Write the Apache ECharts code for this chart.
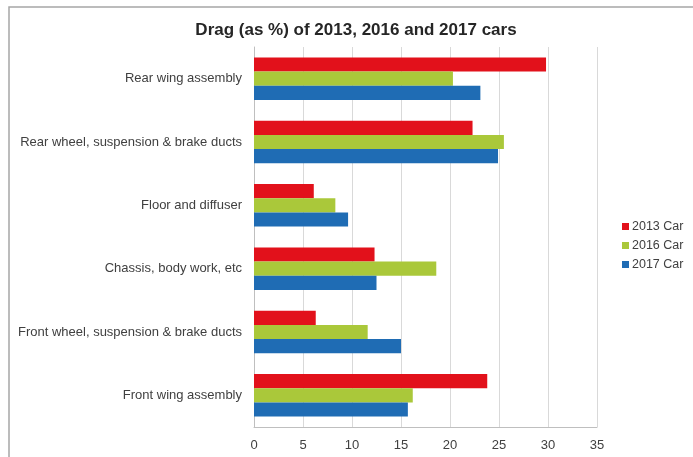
<!DOCTYPE html>
<html>
<head>
<meta charset="utf-8">
<script src="https://cdn.jsdelivr.net/npm/echarts@6/dist/echarts.min.js"></script>
<style>
  html, body { margin: 0; padding: 0; background: #fff; }
  #chart { width: 693px; height: 457px; }
</style>
</head>
<body>
<div id="chart"></div>
<script>
// Car components, listed top to bottom
const categories = [
  'Rear wing assembly',
  'Rear wheel, suspension & brake ducts',
  'Floor and diffuser',
  'Chassis, body work, etc',
  'Front wheel, suspension & brake ducts',
  'Front wing assembly'
];

// Drag share (%) per component
const car2013 = [29.8, 22.3, 6.1, 12.3, 6.3, 23.8];
const car2016 = [20.3, 25.5, 8.3, 18.6, 11.6, 16.2];
const car2017 = [23.1, 24.9, 9.6, 12.5, 15.0, 15.7];

const seriesNames = ['2013 Car', '2016 Car', '2017 Car'];
const xTicks = [0, 5, 10, 15, 20, 25, 30, 35];

const colors = ['#e2111b', '#aac83a', '#1f6cb4'];
const textColor = '#404040';
const font = 'Liberation Sans, Arial, sans-serif';

const chart = echarts.init(document.getElementById('chart'), null, { renderer: 'canvas' });

const makeSeries = (name, data, color) => ({
  name: name,
  type: 'bar',
  data: data,
  itemStyle: { color: color },
  barGap: '0%',
  barCategoryGap: '33%',
  emphasis: { disabled: true }
});

chart.setOption({
  animation: false,
  backgroundColor: '#ffffff',
  graphic: [{
    type: 'rect',
    shape: { x: 9, y: 7, width: 720, height: 480 },
    style: { fill: 'none', stroke: '#a6a6a6', lineWidth: 1.5 },
    silent: true
  }],
  title: {
    text: 'Drag (as %) of 2013, 2016 and 2017 cars',
    left: 351,
    textAlign: 'center',
    top: 17,
    textStyle: { fontFamily: font, fontSize: 17, fontWeight: 'bold', color: '#262626' }
  },
  legend: {
    orient: 'vertical',
    left: 617,
    top: 215,
    icon: 'rect',
    itemWidth: 7,
    itemHeight: 7,
    itemGap: 6,
    data: seriesNames,
    textStyle: { fontFamily: font, fontSize: 12.5, color: textColor, padding: [0, 0, 0, -2] }
  },
  grid: { left: 254, right: 96, top: 47, bottom: 30, containLabel: false },
  xAxis: {
    type: 'value',
    min: xTicks[0],
    max: xTicks[xTicks.length - 1],
    interval: 5,
    axisLine: { show: true, lineStyle: { color: '#bfbfbf' } },
    axisTick: { show: false },
    splitLine: { show: true, lineStyle: { color: '#d9d9d9', width: 1 } },
    axisLabel: { fontFamily: font, fontSize: 13, color: textColor, margin: 12 }
  },
  yAxis: {
    type: 'category',
    data: categories,
    inverse: true,
    axisLine: { show: true, lineStyle: { color: '#bfbfbf' } },
    axisTick: { show: false },
    splitLine: { show: false },
    axisLabel: { fontFamily: font, fontSize: 13, color: textColor, margin: 12 }
  },
  series: [
    makeSeries(seriesNames[0], car2013, colors[0]),
    makeSeries(seriesNames[1], car2016, colors[1]),
    makeSeries(seriesNames[2], car2017, colors[2])
  ]
});
</script>
</body>
</html>
